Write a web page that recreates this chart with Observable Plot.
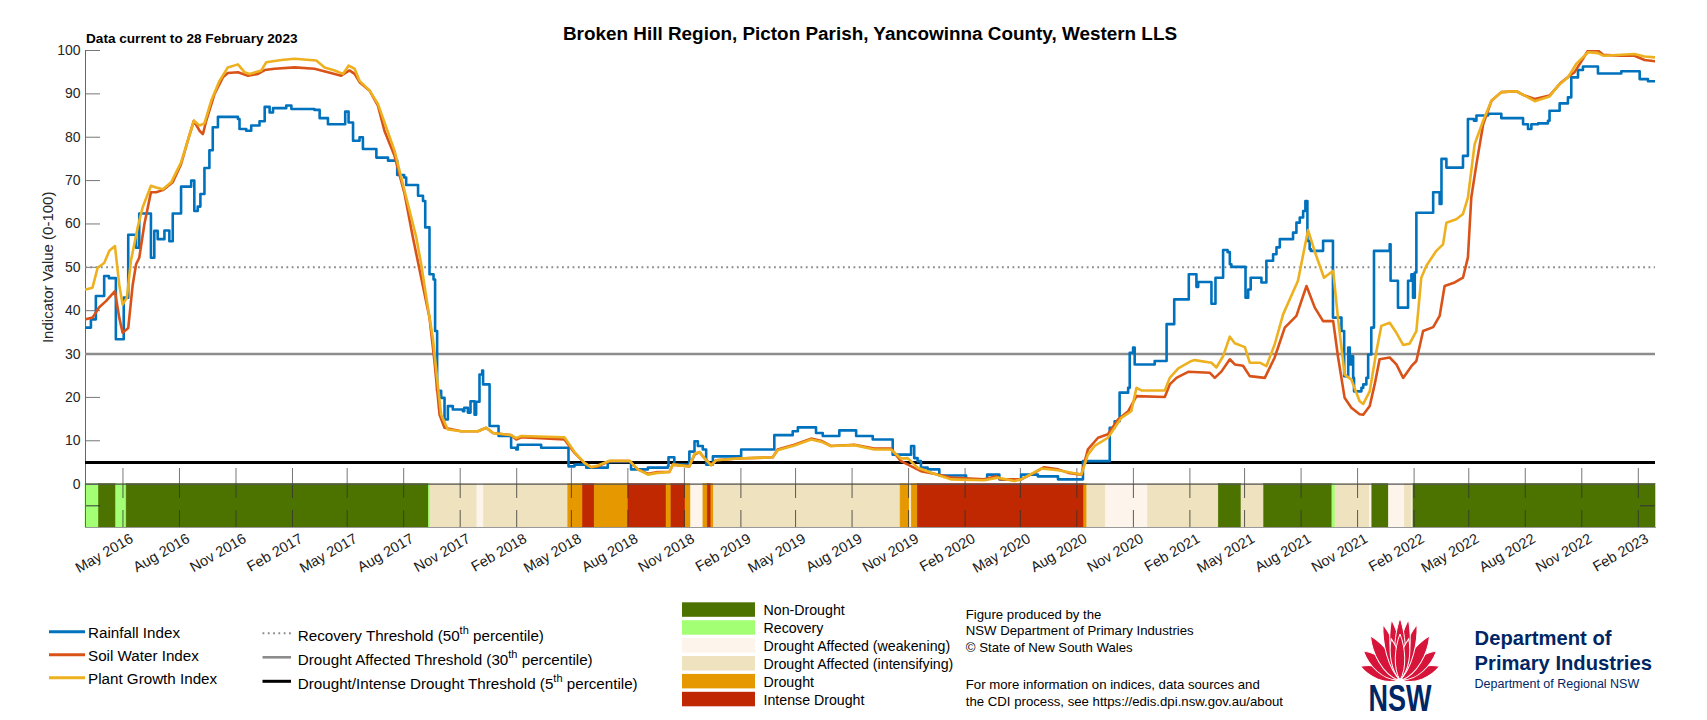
<!DOCTYPE html>
<html><head><meta charset="utf-8">
<script src="https://cdn.jsdelivr.net/npm/d3@7"></script>
<script src="https://cdn.jsdelivr.net/npm/@observablehq/plot@0.6"></script>
<style>
body{margin:0;background:#fff;}
#wrap{position:relative;width:1707px;height:720px;overflow:hidden;background:#fff;font-family:"Liberation Sans",Arial,Helvetica,sans-serif;}
.abs{position:absolute;white-space:nowrap;line-height:1;color:#000;}
</style></head><body><div id="wrap"></div>
<script>
const FONT = '"Liberation Sans", Arial, Helvetica, sans-serif';

// ---------- DATA (time as decimal year, value 0-100) ----------
const titleText = "Broken Hill Region, Picton Parish, Yancowinna County, Western LLS";
const subtitleText = "Data current to 28 February 2023";

const rainfallIndex = [[2016.164,36.1],[2016.188,38.0],[2016.210,43.4],[2016.247,48.0],[2016.268,47.5],[2016.299,33.4],[2016.334,43.0],[2016.354,57.5],[2016.389,54.5],[2016.403,62.4],[2016.455,52.2],[2016.470,58.4],[2016.485,56.5],[2016.515,58.5],[2016.537,56.0],[2016.552,62.4],[2016.589,68.6],[2016.634,70.0],[2016.648,63.0],[2016.663,64.0],[2016.675,66.9],[2016.693,72.9],[2016.715,77.0],[2016.730,82.3],[2016.753,84.7],[2016.842,84.2],[2016.849,81.9],[2016.879,81.5],[2016.901,82.7],[2016.938,83.7],[2016.961,87.0],[2016.983,85.7],[2016.998,86.7],[2017.057,87.3],[2017.080,86.5],[2017.183,86.3],[2017.206,84.4],[2017.243,83.0],[2017.320,85.9],[2017.335,83.4],[2017.355,79.2],[2017.384,80.0],[2017.399,77.3],[2017.459,75.3],[2017.511,74.6],[2017.552,71.3],[2017.583,70.7],[2017.592,69.0],[2017.645,66.5],[2017.667,65.3],[2017.677,59.2],[2017.696,48.4],[2017.714,47.2],[2017.721,35.3],[2017.730,21.5],[2017.748,19.9],[2017.763,14.9],[2017.778,18.0],[2017.800,17.2],[2017.845,16.8],[2017.851,17.6],[2017.867,16.5],[2017.879,19.1],[2017.897,16.0],[2017.904,19.0],[2017.919,25.3],[2017.931,26.2],[2017.935,23.0],[2017.964,13.4],[2018.004,11.1],[2018.060,8.4],[2018.083,8.0],[2018.090,9.1],[2018.194,8.4],[2018.316,4.1],[2018.343,4.5],[2018.395,3.8],[2018.491,5.1],[2018.595,3.4],[2018.670,3.8],[2018.759,4.1],[2018.762,6.2],[2018.788,4.5],[2018.855,7.5],[2018.878,9.9],[2018.893,8.8],[2018.915,8.0],[2018.930,4.5],[2018.960,6.4],[2019.086,8.0],[2019.234,11.3],[2019.316,12.2],[2019.339,13.1],[2019.420,11.8],[2019.450,11.1],[2019.524,12.4],[2019.599,11.1],[2019.673,10.3],[2019.762,6.8],[2019.844,8.8],[2019.858,6.0],[2019.873,5.3],[2019.888,3.8],[2019.918,3.4],[2019.970,2.0],[2020.089,1.1],[2020.183,2.2],[2020.237,1.1],[2020.334,2.2],[2020.408,1.8],[2020.498,1.1],[2020.609,5.3],[2020.728,13.0],[2020.750,14.5],[2020.772,21.1],[2020.810,22.2],[2020.817,30.3],[2020.832,31.5],[2020.839,27.6],[2020.928,28.4],[2020.981,36.9],[2021.015,42.6],[2021.080,48.4],[2021.114,45.5],[2021.122,46.6],[2021.181,41.6],[2021.199,47.6],[2021.233,54.0],[2021.253,53.5],[2021.263,50.7],[2021.270,50.1],[2021.333,43.0],[2021.345,44.9],[2021.356,47.6],[2021.404,46.5],[2021.426,51.5],[2021.456,53.0],[2021.471,54.6],[2021.486,56.5],[2021.545,58.0],[2021.560,60.3],[2021.575,61.5],[2021.590,63.0],[2021.600,65.3],[2021.609,56.1],[2021.619,54.2],[2021.624,53.8],[2021.679,56.1],[2021.723,38.4],[2021.761,35.3],[2021.773,24.9],[2021.791,31.5],[2021.798,27.6],[2021.805,29.5],[2021.813,24.5],[2021.817,21.4],[2021.850,22.2],[2021.858,23.0],[2021.872,24.5],[2021.880,29.9],[2021.894,36.1],[2021.906,53.8],[2021.976,55.3],[2021.980,46.9],[2022.013,40.7],[2022.058,46.9],[2022.073,48.4],[2022.080,43.0],[2022.088,48.8],[2022.095,62.6],[2022.170,67.3],[2022.199,64.6],[2022.207,75.0],[2022.229,73.0],[2022.303,75.7],[2022.325,84.2],[2022.352,83.8],[2022.363,85.0],[2022.415,85.4],[2022.474,84.4],[2022.556,84.4],[2022.571,83.0],[2022.593,81.9],[2022.608,83.0],[2022.638,83.2],[2022.682,83.8],[2022.689,86.1],[2022.734,87.8],[2022.771,89.2],[2022.786,93.8],[2022.816,95.5],[2022.838,96.3],[2022.905,94.7],[2023.009,95.2],[2023.091,93.4],[2023.128,92.9],[2023.162,92.9]];

const soilWaterIndex = [[2016.164,38.0],[2016.195,38.4],[2016.225,40.8],[2016.255,42.2],[2016.295,44.5],[2016.314,38.4],[2016.329,34.9],[2016.354,36.0],[2016.374,46.0],[2016.389,50.7],[2016.403,52.2],[2016.426,60.0],[2016.455,67.3],[2016.478,67.3],[2016.508,67.8],[2016.552,69.6],[2016.589,73.8],[2016.619,79.2],[2016.646,83.8],[2016.671,81.5],[2016.686,80.7],[2016.701,83.8],[2016.738,90.0],[2016.775,93.8],[2016.797,94.8],[2016.842,95.0],[2016.887,94.2],[2016.931,94.6],[2016.961,95.5],[2017.005,95.8],[2017.094,96.1],[2017.183,95.8],[2017.243,95.0],[2017.302,94.2],[2017.339,95.4],[2017.362,94.6],[2017.384,92.7],[2017.428,90.8],[2017.466,87.3],[2017.495,81.5],[2017.540,75.7],[2017.585,66.9],[2017.622,56.9],[2017.659,47.6],[2017.696,38.4],[2017.718,28.4],[2017.741,16.0],[2017.763,13.0],[2017.837,12.2],[2017.912,12.2],[2017.949,13.0],[2017.979,11.8],[2018.060,11.3],[2018.083,10.3],[2018.105,10.8],[2018.298,10.3],[2018.343,7.2],[2018.387,4.9],[2018.417,3.9],[2018.447,4.1],[2018.499,5.3],[2018.588,5.3],[2018.625,3.4],[2018.670,2.4],[2018.714,2.8],[2018.766,2.8],[2018.781,4.5],[2018.855,4.1],[2018.878,6.8],[2018.900,7.4],[2018.922,6.0],[2018.952,4.5],[2018.974,5.5],[2019.071,5.9],[2019.227,6.2],[2019.249,8.0],[2019.323,9.1],[2019.398,10.5],[2019.442,10.0],[2019.487,8.8],[2019.591,9.1],[2019.680,8.2],[2019.754,8.2],[2019.799,5.3],[2019.888,3.0],[2019.963,2.2],[2020.022,1.5],[2020.169,1.1],[2020.223,1.8],[2020.245,1.1],[2020.334,1.1],[2020.392,2.6],[2020.436,3.9],[2020.499,3.4],[2020.544,2.6],[2020.602,2.2],[2020.631,8.0],[2020.676,10.7],[2020.720,11.5],[2020.765,14.9],[2020.810,16.8],[2020.847,20.3],[2020.973,20.1],[2020.995,23.0],[2021.025,24.5],[2021.077,25.9],[2021.173,25.7],[2021.196,24.5],[2021.226,26.0],[2021.263,28.8],[2021.285,27.6],[2021.322,27.3],[2021.352,24.9],[2021.419,24.5],[2021.463,29.2],[2021.508,36.1],[2021.560,38.8],[2021.582,42.2],[2021.605,45.7],[2021.642,40.7],[2021.679,37.6],[2021.724,37.6],[2021.746,29.2],[2021.775,19.9],[2021.805,17.6],[2021.842,16.1],[2021.858,16.0],[2021.887,18.0],[2021.909,23.0],[2021.931,28.8],[2021.976,29.2],[2022.006,27.6],[2022.036,24.5],[2022.073,27.2],[2022.095,28.4],[2022.125,35.3],[2022.170,36.2],[2022.199,38.8],[2022.221,45.7],[2022.266,46.5],[2022.303,47.6],[2022.325,52.3],[2022.340,66.1],[2022.363,73.8],[2022.393,83.0],[2022.430,88.4],[2022.474,90.4],[2022.541,90.6],[2022.578,89.6],[2022.623,88.8],[2022.689,89.6],[2022.742,92.7],[2022.779,94.2],[2022.801,95.0],[2022.861,100],[2022.905,100],[2022.928,99.0],[2023.009,98.8],[2023.068,98.8],[2023.113,97.8],[2023.162,97.5]];

const plantGrowthIndex = [[2016.164,44.9],[2016.195,45.3],[2016.218,49.9],[2016.247,51.0],[2016.270,53.8],[2016.295,54.9],[2016.314,46.0],[2016.329,41.4],[2016.348,43.0],[2016.366,51.5],[2016.396,59.2],[2016.418,63.8],[2016.455,68.8],[2016.478,68.4],[2016.508,68.0],[2016.545,69.6],[2016.589,74.2],[2016.619,79.2],[2016.646,83.8],[2016.671,82.7],[2016.693,83.2],[2016.723,88.4],[2016.760,93.0],[2016.797,96.1],[2016.842,96.8],[2016.871,95.0],[2016.894,94.6],[2016.946,95.4],[2016.968,97.3],[2017.035,97.8],[2017.094,98.1],[2017.191,97.7],[2017.228,96.1],[2017.273,95.4],[2017.310,94.6],[2017.335,96.5],[2017.362,95.8],[2017.384,93.0],[2017.428,90.8],[2017.466,87.7],[2017.540,76.9],[2017.585,67.6],[2017.637,56.9],[2017.659,50.7],[2017.689,40.7],[2017.711,33.7],[2017.733,22.9],[2017.748,16.0],[2017.778,12.6],[2017.837,12.2],[2017.912,12.2],[2017.949,13.0],[2017.979,11.8],[2018.060,11.3],[2018.083,10.6],[2018.105,11.1],[2018.298,10.8],[2018.343,7.4],[2018.387,4.9],[2018.417,3.9],[2018.447,4.3],[2018.499,5.4],[2018.588,5.4],[2018.625,3.4],[2018.670,2.2],[2018.714,2.6],[2018.766,2.8],[2018.781,4.5],[2018.855,4.1],[2018.878,7.0],[2018.900,7.4],[2018.922,6.0],[2018.952,4.3],[2018.974,5.5],[2019.071,5.9],[2019.227,6.2],[2019.249,7.8],[2019.323,8.9],[2019.398,10.3],[2019.442,9.8],[2019.487,8.8],[2019.591,9.0],[2019.680,8.0],[2019.754,8.0],[2019.799,5.9],[2019.829,6.0],[2019.873,3.8],[2019.963,2.1],[2020.022,1.1],[2020.169,0.9],[2020.230,1.5],[2020.304,0.7],[2020.334,1.1],[2020.423,3.6],[2020.498,3.2],[2020.602,2.2],[2020.631,6.8],[2020.661,8.8],[2020.720,10.7],[2020.780,15.3],[2020.824,16.8],[2020.847,22.2],[2020.869,21.6],[2020.973,21.6],[2020.995,24.5],[2021.033,26.7],[2021.092,28.4],[2021.107,28.6],[2021.181,28.0],[2021.203,26.9],[2021.233,29.5],[2021.263,34.0],[2021.285,32.5],[2021.330,31.6],[2021.352,28.0],[2021.397,28.0],[2021.426,27.2],[2021.463,32.2],[2021.501,39.2],[2021.567,46.9],[2021.612,58.6],[2021.642,53.6],[2021.683,47.6],[2021.724,49.2],[2021.746,38.0],[2021.775,25.3],[2021.805,24.1],[2021.842,19.1],[2021.858,18.5],[2021.887,21.4],[2021.917,30.7],[2021.939,36.5],[2021.976,37.2],[2022.006,34.9],[2022.036,32.1],[2022.065,32.4],[2022.095,35.3],[2022.117,47.6],[2022.139,50.3],[2022.184,53.8],[2022.214,55.3],[2022.229,60.3],[2022.273,61.1],[2022.303,62.3],[2022.325,66.1],[2022.355,78.4],[2022.393,83.8],[2022.430,88.4],[2022.474,90.4],[2022.541,90.6],[2022.578,89.6],[2022.623,88.3],[2022.689,89.4],[2022.727,91.9],[2022.771,93.8],[2022.808,96.9],[2022.861,99.6],[2022.905,99.4],[2022.928,98.8],[2023.068,99.2],[2023.113,98.6],[2023.162,98.4]];

const seriesNames = ["Rainfall Index", "Soil Water Index", "Plant Growth Index"];
const seriesColors = ["#0072BD", "#D95319", "#EDB120"];

const thresholdValues = [50, 30, 5];
const thresholdLabels = [["Recovery Threshold (50", "th", " percentile)"], ["Drought Affected Threshold (30", "th", " percentile)"], ["Drought/Intense Drought Threshold (5", "th", " percentile)"]];

const categories = ["Non-Drought", "Recovery", "Drought Affected (weakening)", "Drought Affected (intensifying)", "Drought", "Intense Drought"];
const categoryColors = ["#4c7300", "#a3ff73", "#fdf5eb", "#efe2bf", "#e69800", "#bf2800"];

const stripStart = ["2016-03-01","2016-03-23","2016-04-20","2016-05-07","2017-09-11","2017-09-14","2017-11-29","2017-12-10","2018-04-26","2018-05-20","2018-06-08","2018-08-02","2018-10-03","2018-10-11","2018-11-03","2018-11-12","2018-12-02","2018-12-09","2018-12-15","2018-12-19","2019-10-19","2019-11-03","2019-11-06","2019-11-16","2020-08-13","2020-08-18","2020-09-17","2020-11-25","2021-03-20","2021-04-26","2021-06-02","2021-09-21","2021-09-26","2021-11-21","2021-11-25","2021-12-22","2022-01-17","2022-01-29","2022-01-31"];
const stripCategory = ["Recovery","Non-Drought","Recovery","Non-Drought","Recovery","Drought Affected (intensifying)","Drought Affected (weakening)","Drought Affected (intensifying)","Drought","Intense Drought","Drought","Intense Drought","Drought","Intense Drought","Drought","Drought Affected (weakening)","Drought","Intense Drought","Drought","Drought Affected (intensifying)","Drought","Drought Affected (weakening)","Drought","Intense Drought","Drought","Drought Affected (intensifying)","Drought Affected (weakening)","Drought Affected (intensifying)","Non-Drought","Drought Affected (intensifying)","Non-Drought","Recovery","Drought Affected (intensifying)","Drought Affected (weakening)","Non-Drought","Drought Affected (weakening)","Drought Affected (intensifying)","Drought Affected (weakening)","Non-Drought"];
const dataStart = "2016-03-01";
const dataEnd = "2023-03-01";

const yTicks = [0, 10, 20, 30, 40, 50, 60, 70, 80, 90, 100];
const xTickDates = ["2016-05-01","2016-08-01","2016-11-01","2017-02-01","2017-05-01","2017-08-01","2017-11-01","2018-02-01","2018-05-01","2018-08-01","2018-11-01","2019-02-01","2019-05-01","2019-08-01","2019-11-01","2020-02-01","2020-05-01","2020-08-01","2020-11-01","2021-02-01","2021-05-01","2021-08-01","2021-11-01","2022-02-01","2022-05-01","2022-08-01","2022-11-01","2023-02-01"];
const xTickLabels = ["May 2016","Aug 2016","Nov 2016","Feb 2017","May 2017","Aug 2017","Nov 2017","Feb 2018","May 2018","Aug 2018","Nov 2018","Feb 2019","May 2019","Aug 2019","Nov 2019","Feb 2020","May 2020","Aug 2020","Nov 2020","Feb 2021","May 2021","Aug 2021","Nov 2021","Feb 2022","May 2022","Aug 2022","Nov 2022","Feb 2023"];

const creditLines = [["Figure produced by the", 0], ["NSW Department of Primary Industries", 1], ["\u00A9 State of New South Wales", 2], ["For more information on indices, data sources and", 4], ["the CDI process, see https://edis.dpi.nsw.gov.au/about", 5]];
const logoLines = ["Department of", "Primary Industries", "Department of Regional NSW"];

// ---------- helpers ----------
function fromYear(t) {
  const y = Math.floor(t);
  const a = Date.UTC(y, 0, 1), b = Date.UTC(y + 1, 0, 1);
  return new Date(a + (t - y) * (b - a));
}
const parse = s => new Date(s + "T00:00:00Z");
const strip = stripStart.map((s, i) => ({start: parse(s), end: parse(i + 1 < stripStart.length ? stripStart[i + 1] : dataEnd), cat: stripCategory[i]}));
const xTicks = xTickDates.map((d, i) => ({date: parse(d), label: xTickLabels[i]}));

const wrap = document.getElementById("wrap");

function addText(txt, left, baseline, size, weight, anchor) {
  const d = document.createElement("div");
  d.className = "abs";
  d.textContent = txt;
  d.style.fontSize = size + "px";
  d.style.fontWeight = weight;
  d.style.top = (baseline - 0.8465 * size) + "px";
  d.style.left = left + "px";
  if (anchor === "middle") d.style.transform = "translateX(-50%)";
  wrap.appendChild(d);
}

// ---------- chart ----------
const chart = Plot.plot({
  width: 1707, height: 590,
  marginLeft: 85, marginRight: 52, marginTop: 50, marginBottom: 63,
  style: {fontFamily: FONT, background: "transparent", overflow: "visible", color: "#262626"},
  x: {type: "utc", domain: [parse(dataStart), parse(dataEnd)], axis: null},
  y: {domain: [-10, 100], axis: null},
  color: {domain: categories, range: categoryColors},
  marks: [
    Plot.rect(strip, {x1: "start", x2: "end", y1: -10, y2: 0, fill: "cat", stroke: "cat", strokeWidth: 0.6}),
    Plot.tickX(xTicks, {x: "date", stroke: "#333", strokeWidth: 0.8, insetTop: 433, insetBottom: 29}),
    Plot.tickX(xTicks, {x: "date", stroke: "#333", strokeWidth: 0.8, insetTop: 460}),
    Plot.tickX(xTicks, {x: "date", stroke: "#777", strokeWidth: 1, insetTop: 418, insetBottom: 44}),
    Plot.tickY([-5], {stroke: "#333", insetRight: 1555}),
    Plot.tickY([-5], {stroke: "#333", insetLeft: 1555}),
    Plot.tickY(yTicks, {stroke: "#777", insetRight: 1555}),
    Plot.frame({anchor: "left", stroke: "#666"}),
    Plot.frame({anchor: "bottom", stroke: "#999"}),
    Plot.ruleY([0], {stroke: "#555", strokeWidth: 1.2}),
    Plot.ruleY([thresholdValues[0]], {stroke: "#8a8a8a", strokeWidth: 2, strokeDasharray: "1.8,3.5"}),
    Plot.ruleY([thresholdValues[1]], {stroke: "#8c8c8c", strokeWidth: 2.6}),
    Plot.ruleY([thresholdValues[2]], {stroke: "#000", strokeWidth: 3}),
    Plot.line(rainfallIndex, {x: d => fromYear(d[0]), y: d => d[1], curve: "step-after", stroke: seriesColors[0], strokeWidth: 2.6, clip: true}),
    Plot.line(soilWaterIndex, {x: d => fromYear(d[0]), y: d => d[1], curve: "linear", stroke: seriesColors[1], strokeWidth: 2.6, clip: true}),
    Plot.line(plantGrowthIndex, {x: d => fromYear(d[0]), y: d => d[1], curve: "linear", stroke: seriesColors[2], strokeWidth: 2.6, clip: true}),
    Plot.text(yTicks, {y: d => d, text: d => String(d), frameAnchor: "left", textAnchor: "end", dx: -5, fontSize: 14, fill: "#262626"}),
    Plot.text(["Indicator Value (0-100)"], {y: 50, text: d => d, frameAnchor: "left", rotate: -90, textAnchor: "middle", dx: -37, fontSize: 15, fill: "#262626"}),
    Plot.text(xTicks, {x: "date", text: "label", frameAnchor: "bottom", rotate: -30, textAnchor: "end", lineAnchor: "top", dx: 6, dy: 5, fontSize: 14.5, fill: "#1a1a1a"})
  ]
});
chart.style.position = "absolute";
chart.style.left = "0px";
chart.style.top = "0px";
wrap.appendChild(chart);

addText(titleText, 870, 40.5, 18.9, "bold", "middle");
addText(subtitleText, 86, 44, 13.6, "bold");

// ---------- legend ----------
const leg = d3.select(wrap).append("svg")
  .attr("width", 1707).attr("height", 130)
  .style("position", "absolute").style("left", "0px").style("top", "590px")
  .style("font-family", FONT);
const g = leg.append("g").attr("transform", "translate(0,-590)");

seriesNames.forEach((name, i) => {
  const y = 631.7 + i * 23;
  g.append("line").attr("x1", 49).attr("x2", 85).attr("y1", y).attr("y2", y).attr("stroke", seriesColors[i]).attr("stroke-width", 3);
  g.append("text").attr("x", 88).attr("y", y + 6.3).attr("font-size", 15.2).attr("fill", "#000").text(name);
});

const thrStyles = [{stroke: "#8a8a8a", w: 2, dash: "1.8,3.5"}, {stroke: "#8c8c8c", w: 2.6, dash: null}, {stroke: "#000", w: 3, dash: null}];
thresholdLabels.forEach((parts, i) => {
  const y = 633.3 + i * 24;
  const s = thrStyles[i];
  g.append("line").attr("x1", 262.5).attr("x2", 291).attr("y1", y).attr("y2", y).attr("stroke", s.stroke).attr("stroke-width", s.w).attr("stroke-dasharray", s.dash);
  const t = g.append("text").attr("x", 297.8).attr("y", y + 7.2).attr("font-size", 15.2).attr("fill", "#000");
  t.append("tspan").text(parts[0]);
  t.append("tspan").attr("font-size", 11).attr("dy", -6.5).text(parts[1]);
  t.append("tspan").attr("dy", 6.5).text(parts[2]);
});

categories.forEach((c, i) => {
  const y = 602.3 + i * 17.9;
  g.append("rect").attr("x", 682).attr("y", y).attr("width", 73).attr("height", 14.5).attr("fill", categoryColors[i]);
  g.append("text").attr("x", 763.5).attr("y", y + 12.8).attr("font-size", 14.2).attr("fill", "#000").text(c);
});

creditLines.forEach(([txt, row]) => {
  const base = row < 3 ? 618.5 + row * 16.7 : 688.5 + (row - 4) * 17;
  g.append("text").attr("x", 965.8).attr("y", base).attr("font-size", 13.2).attr("fill", "#000").text(txt);
});

// NSW logo (waratah + wordmark)
const red = "#d7153a", navy = "#002664";
const logo = g.append("g");
function petal(x0, y0, ang, len, wid) {
  logo.append("path")
    .attr("transform", `translate(${x0},${y0}) rotate(${ang})`)
    .attr("d", `M0,0 C${wid},${-len * 0.25} ${wid * 0.8},${-len * 0.7} 0,${-len} C${-wid * 0.8},${-len * 0.7} ${-wid},${-len * 0.25} 0,0Z`)
    .attr("fill", red).attr("stroke", "#fff").attr("stroke-width", 1);
}
const bx = 1400, by = 680;
[[-70, 40, 9], [-50, 45, 10], [-32, 52, 10]].forEach(([a, l, w]) => petal(bx - 2, by, a, l, w));
[[70, 40, 9], [50, 45, 10], [32, 52, 10]].forEach(([a, l, w]) => petal(bx + 2, by, a, l, w));
[[-17, 58, 8], [17, 58, 8], [-8, 61, 8], [8, 61, 8], [0, 62, 8]].forEach(([a, l, w]) => petal(bx, by, a, l, w));
[[-12, 42, 7], [12, 42, 7], [0, 46, 7]].forEach(([a, l, w]) => petal(bx, by, a, l, w));
g.append("text").attr("transform", `translate(${bx},711) scale(0.75,1)`).attr("text-anchor", "middle").attr("font-size", 36).attr("font-weight", "bold").attr("fill", navy).text("NSW");
g.append("text").attr("x", 1474.6).attr("y", 645).attr("font-size", 20.2).attr("font-weight", "bold").attr("fill", navy).text(logoLines[0]);
g.append("text").attr("x", 1474.6).attr("y", 670).attr("font-size", 20.2).attr("font-weight", "bold").attr("fill", navy).text(logoLines[1]);
g.append("text").attr("x", 1474.6).attr("y", 687.5).attr("font-size", 12.5).attr("fill", navy).text(logoLines[2]);
</script></body></html>
